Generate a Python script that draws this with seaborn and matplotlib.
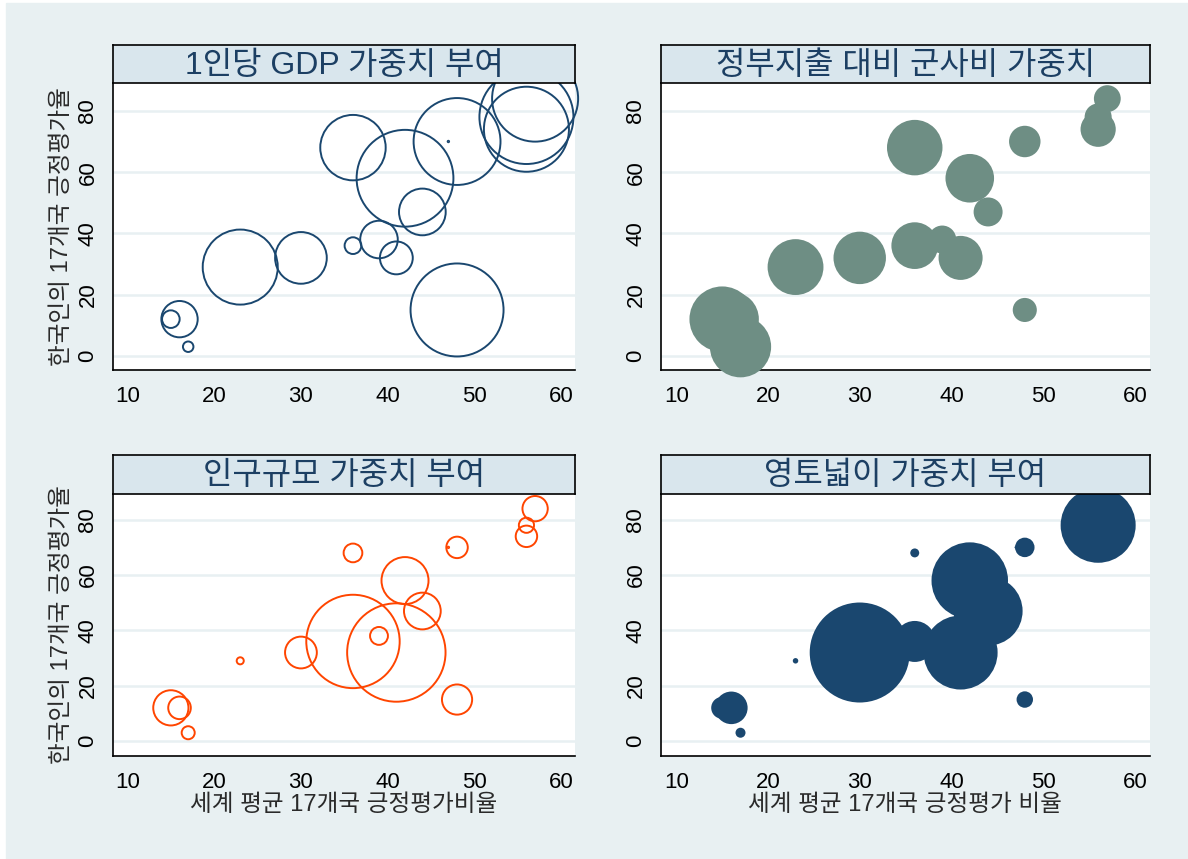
import numpy as np
import pandas as pd
import seaborn as sns
import matplotlib.pyplot as plt
from matplotlib.patches import Rectangle

# %% data: 17 countries, world vs. Korean positive-rating share
world_pct = [15, 16, 17, 23, 30, 36, 36, 39, 41, 42, 44, 47, 48, 48, 56, 56, 57]
korea_pct = [12, 12, 3, 29, 32, 68, 36, 38, 32, 58, 47, 70, 15, 70, 74, 78, 84]

# bubble weights (relative)
w_gdp = [3.1, 13.2, 1.1, 56.3, 26.7, 42.8, 2.8, 14.1, 10.8, 93.7, 21.8, 0.02,
         86.5, 75.5, 72.3, 88.4, 74.0]
w_milex = [42.8, 30.3, 37.5, 31.2, 27.5, 30.8, 21.8, 7.8, 19.4, 23.6, 8.4, 1.0,
           5.8, 9.9, 12.4, 7.3, 7.2]
w_pop = [12.4, 5.1, 1.7, 0.5, 10.1, 3.5, 87.2, 3.2, 96.8, 22.1, 13.5, 0.02,
         9.1, 4.6, 4.6, 2.3, 6.4]
w_area = [4.8, 10.6, 1.0, 0.3, 100.0, 0.8, 16.8, 4.0, 54.8, 58.5, 47.6, 0.05,
          2.7, 3.8, 1.0, 56.3, 1.0]

titles = ['1인당 GDP 가중치 부여', '정부지출 대비 군사비 가중치',
          '인구규모 가중치 부여', '영토넓이 가중치 부여']
xlabels = [None, None, '세계 평균 17개국 긍정평가비율', '세계 평균 17개국 긍정평가 비율']
ylabel = '한국인의 17개국 긍정평가율'
x_ticks = [10, 20, 30, 40, 50, 60]
y_ticks = [0, 20, 40, 60, 80]

# %% styles
navy = '#1a476f'
colors = [navy, '#6e8e84', '#ff4500', navy]
filled = [False, True, False, True]
bg = '#e8f0f2'
strip = '#d9e6ed'

sns.set_theme(style='white')
plt.rcParams['font.family'] = ['Liberation Sans', 'Noto Sans CJK KR']

W, H = 1188, 859
fig = plt.figure(figsize=(W / 100, H / 100), dpi=100)
fig.add_artist(Rectangle((6 / W, 0), 1, 1 - 3 / H, transform=fig.transFigure,
                         color=bg, zorder=-10))


def px_box(x0, x1, ytop, ybot):
    return [x0 / W, 1 - ybot / H, (x1 - x0) / W, (ybot - ytop) / H]


cols = [(113, 575), (661, 1149.5)]
rows = [(45.3, 83.3, 370), (455, 494, 755.7)]
ylims = [(-4.6, 89.0), (-5.3, 89.3)]

weights = [w_gdp, w_milex, w_pop, w_area]

for i in range(4):
    r, c = divmod(i, 2)
    x0, x1 = cols[c]
    ttop, tbot, pbot = rows[r]
    ax = fig.add_axes(px_box(x0, x1, tbot, pbot), zorder=1)
    ax.set_facecolor('white')

    df = pd.DataFrame({'x': world_pct, 'y': korea_pct, 'w': weights[i]})
    if filled[i]:
        kw = dict(color=colors[i], linewidth=0)
    else:
        kw = dict(facecolor='none', edgecolor=colors[i], linewidth=1.4)
    sns.scatterplot(data=df, x='x', y='y', size='w', sizes=(0, 5184),
                    size_norm=(0, 100), legend=False, clip_on=False,
                    zorder=3, ax=ax, **kw)

    ax.set_xlim(8.33, 61.6)
    ax.set_ylim(*ylims[r])
    ax.set_xticks(x_ticks)
    ax.set_yticks(y_ticks)
    ax.set_axisbelow(True)
    ax.yaxis.grid(True, color=bg, lw=1.8)
    ax.xaxis.grid(False)
    for s in ['top', 'right']:
        ax.spines[s].set_visible(False)
    for s in ['left', 'bottom']:
        ax.spines[s].set_color('black')
        ax.spines[s].set_linewidth(1.2)
    ax.tick_params(axis='both', direction='out', length=6.5, width=1,
                   color='black', labelsize=16, labelcolor='black', pad=4)
    ax.tick_params(axis='x', pad=5)
    ax.tick_params(axis='y', labelrotation=90)
    for lab in ax.get_yticklabels():
        lab.set_va('center')

    ax.set_xlabel(xlabels[i] if xlabels[i] else '', fontsize=17,
                  color='#2a2a2a', labelpad=1)
    ax.set_ylabel(ylabel if c == 0 else '', fontsize=17, color='#2a2a2a',
                  labelpad=3)

    # strip title box
    tax = fig.add_axes(px_box(x0, x1, ttop, tbot), zorder=2)
    tax.set_facecolor(strip)
    tax.set_xticks([])
    tax.set_yticks([])
    for s in tax.spines.values():
        s.set_visible(True)
        s.set_color('black')
        s.set_linewidth(1.2)
    tax.text(0.5, 0.45, titles[i], ha='center', va='center', fontsize=23,
             color='#1c3f63', transform=tax.transAxes)

fig.savefig('out.png', dpi=100)
